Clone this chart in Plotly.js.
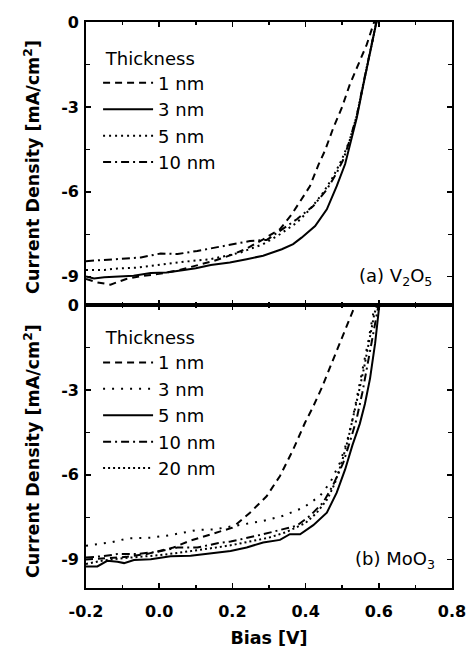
<!DOCTYPE html>
<html><head><meta charset="utf-8">
<script src="https://cdn.plot.ly/plotly-3.0.1.min.js"></script>
<style>html,body{margin:0;padding:0;background:#fff}</style>
</head><body><div id="chart" style="width:468px;height:648px"></div>
<script>
// ---- Panel (a) V2O5 ----
const a1nmV = [-0.2, -0.17, -0.133, -0.09, -0.05, 0.0, 0.05, 0.1, 0.15, 0.2, 0.24, 0.284, 0.33, 0.362, 0.389, 0.412, 0.435, 0.453, 0.476, 0.499, 0.521, 0.544, 0.567, 0.585, 0.595];
const a1nmJ = [-9.08, -9.2, -9.28, -9.08, -8.98, -8.9, -8.78, -8.62, -8.44, -8.22, -8.0, -7.68, -7.32, -6.8, -6.27, -5.8, -5.05, -4.54, -3.73, -3.03, -2.2, -1.5, -0.8, -0.09, 0.3];
const a3nmV = [-0.2, -0.178, -0.15, -0.114, -0.07, -0.023, 0.02, 0.068, 0.1, 0.141, 0.193, 0.239, 0.284, 0.335, 0.366, 0.389, 0.426, 0.458, 0.485, 0.508, 0.521, 0.54, 0.558, 0.576, 0.592, 0.6];
const a3nmJ = [-8.99, -9.06, -9.02, -8.99, -8.97, -8.87, -8.85, -8.76, -8.7, -8.59, -8.5, -8.38, -8.26, -8.03, -7.85, -7.62, -7.21, -6.62, -5.8, -5.02, -4.32, -3.38, -2.2, -1.03, -0.09, 0.4];
const a5nmV = [-0.2, -0.15, -0.114, -0.06, -0.023, 0.02, 0.068, 0.141, 0.195, 0.221, 0.284, 0.33, 0.376, 0.412, 0.448, 0.476, 0.499, 0.52, 0.54, 0.558, 0.576, 0.592, 0.6];
const a5nmJ = [-8.76, -8.76, -8.71, -8.68, -8.62, -8.55, -8.47, -8.38, -8.24, -8.15, -7.85, -7.5, -7.09, -6.62, -6.03, -5.45, -4.86, -4.2, -3.3, -2.15, -1.0, -0.05, 0.4];
const a10nmV = [-0.2, -0.187, -0.15, -0.114, -0.05, 0.004, 0.05, 0.104, 0.159, 0.195, 0.248, 0.294, 0.33, 0.376, 0.421, 0.458, 0.485, 0.503, 0.52, 0.54, 0.558, 0.576, 0.592, 0.6];
const a10nmJ = [-8.45, -8.44, -8.4, -8.36, -8.32, -8.18, -8.2, -8.09, -7.95, -7.88, -7.74, -7.7, -7.38, -6.97, -6.5, -5.92, -5.33, -4.86, -4.2, -3.3, -2.15, -1.0, -0.05, 0.4];

// ---- Panel (b) MoO3 ----
const b1nmV = [-0.2, -0.16, -0.09, -0.034, 0.039, 0.084, 0.157, 0.2, 0.248, 0.294, 0.33, 0.366, 0.398, 0.421, 0.444, 0.471, 0.503, 0.53, 0.545];
const b1nmJ = [-8.99, -8.96, -8.9, -8.8, -8.57, -8.33, -8.04, -7.87, -7.34, -6.75, -6.04, -5.11, -4.17, -3.58, -2.93, -2.05, -1.0, -0.18, 0.3];
const b3nmV = [-0.2, -0.133, -0.087, -0.023, 0.031, 0.104, 0.15, 0.195, 0.221, 0.284, 0.339, 0.394, 0.439, 0.467, 0.494, 0.512, 0.526, 0.539, 0.558, 0.572, 0.585, 0.59, 0.595];
const b3nmJ = [-8.51, -8.39, -8.25, -8.22, -8.13, -7.95, -7.93, -7.83, -7.78, -7.63, -7.45, -7.16, -6.75, -6.28, -5.57, -4.87, -4.17, -3.35, -2.17, -1.23, -0.29, 0.0, 0.3];
const b5nmV = [-0.2, -0.169, -0.142, -0.114, -0.096, -0.069, -0.023, 0.031, 0.086, 0.141, 0.195, 0.239, 0.284, 0.33, 0.357, 0.385, 0.421, 0.458, 0.485, 0.508, 0.528, 0.548, 0.562, 0.576, 0.59, 0.601, 0.606];
const b5nmJ = [-9.24, -9.24, -9.04, -9.07, -9.12, -9.01, -8.98, -8.88, -8.86, -8.77, -8.69, -8.57, -8.39, -8.3, -8.1, -8.1, -7.78, -7.34, -6.63, -5.81, -4.95, -4.2, -3.5, -2.6, -1.35, -0.06, 0.5];
const b10nmV = [-0.2, -0.155, -0.114, -0.06, -0.005, 0.05, 0.104, 0.159, 0.195, 0.248, 0.284, 0.339, 0.376, 0.412, 0.448, 0.476, 0.503, 0.523, 0.539, 0.555, 0.572, 0.588, 0.599, 0.605];
const b10nmJ = [-8.92, -8.88, -8.8, -8.8, -8.72, -8.57, -8.57, -8.42, -8.36, -8.22, -8.1, -7.92, -7.8, -7.45, -6.98, -6.34, -5.57, -4.75, -4.05, -3.1, -1.9, -0.7, 0.0, 0.4];
const b20nmV = [-0.2, -0.15, -0.1, -0.05, 0.0, 0.05, 0.1, 0.15, 0.2, 0.25, 0.3, 0.348, 0.4, 0.43, 0.46, 0.48, 0.5, 0.515, 0.53, 0.545, 0.56, 0.575, 0.588, 0.596, 0.602];
const b20nmJ = [-9.15, -9.02, -8.95, -8.9, -8.84, -8.76, -8.68, -8.58, -8.48, -8.36, -8.22, -8.02, -7.7, -7.35, -6.85, -6.3, -5.5, -4.8, -4.0, -3.1, -2.2, -1.2, -0.3, 0.0, 0.4];

const xTickVals = [-0.2, 0.0, 0.2, 0.4, 0.6, 0.8];
const xTickText = ['-0.2', '0.0', '0.2', '0.4', '0.6', '0.8'];
const yTickVals = [0, -3, -6, -9];
const yTickText = ['0', '-3', '-6', '-9'];
const legendTitle = '\u00a0Thickness';
const yTitle = 'Current Density [mA/cm<sup>2</sup>]';

const DASH = '7px,5px', DOT = '2px,4px', DOTS = '2px,7px', DOTD = '2px,3px', DASHDOT = '8px,4px,2px,4px';
function tr(x, y, name, dash, xa, ya, leg) {
  return {x: x, y: y, name: name, type: 'scatter', mode: 'lines', xaxis: xa, yaxis: ya, legend: leg,
          line: {color: '#000', width: 2, dash: dash}, hoverinfo: 'skip'};
}
const data = [
  tr(a1nmV, a1nmJ, '1 nm', DASH, 'x', 'y', 'legend'),
  tr(a3nmV, a3nmJ, '3 nm', 'solid', 'x', 'y', 'legend'),
  tr(a5nmV, a5nmJ, '5 nm', DOT, 'x', 'y', 'legend'),
  tr(a10nmV, a10nmJ, '10 nm', DASHDOT, 'x', 'y', 'legend'),
  tr(b1nmV, b1nmJ, '1 nm', DASH, 'x2', 'y2', 'legend2'),
  tr(b3nmV, b3nmJ, '3 nm', DOTS, 'x2', 'y2', 'legend2'),
  tr(b5nmV, b5nmJ, '5 nm', 'solid', 'x2', 'y2', 'legend2'),
  tr(b10nmV, b10nmJ, '10 nm', DASHDOT, 'x2', 'y2', 'legend2'),
  tr(b20nmV, b20nmJ, '20 nm', DOTD, 'x2', 'y2', 'legend2')
];

const tickFont = {family: 'DejaVu Sans', size: 16, weight: 'bold', color: '#000'};
const titleFont = {family: 'DejaVu Sans', size: 17.5, weight: 'bold', color: '#000'};
function xax(anchor, labels) {
  return {anchor: anchor, range: [-0.2, 0.8], tickmode: 'array', tickvals: xTickVals, ticktext: xTickText,
    showticklabels: labels, ticks: 'inside', ticklen: 5, tickwidth: 1.5, tickcolor: '#000',
    minor: {tickmode: 'linear', tick0: 0, dtick: 0.1, ticks: 'inside', ticklen: 3, tickwidth: 1.5, tickcolor: '#000'},
    showline: true, linecolor: '#000', linewidth: 1.8, mirror: 'ticks', showgrid: false, zeroline: false,
    tickfont: tickFont, ticklabelstandoff: 8, fixedrange: true};
}
function yax(anchor, dom) {
  return {anchor: anchor, domain: dom, range: [-10, 0], tickmode: 'array', tickvals: yTickVals, ticktext: yTickText,
    ticks: 'inside', ticklen: 5, tickwidth: 1.5, tickcolor: '#000',
    minor: {tickmode: 'linear', tick0: 0, dtick: 1.5, ticks: 'inside', ticklen: 4, tickwidth: 1.5, tickcolor: '#000'},
    showline: true, linecolor: '#000', linewidth: 1.8, mirror: 'ticks', showgrid: false, zeroline: false,
    tickfont: tickFont, ticklabelstandoff: 2, fixedrange: true};
}
const xa1 = xax('y', false);
const xa2 = xax('y2', true);
xa2.title = {text: 'Bias [V]', font: titleFont, standoff: 12};
function leg(ytop) {
  return {x: 0.033, y: ytop, xref: 'paper', yref: 'paper', xanchor: 'left', yanchor: 'top',
    bgcolor: 'rgba(0,0,0,0)', borderwidth: 0, itemwidth: 50, tracegroupgap: 0, traceorder: 'normal',
    font: {family: 'DejaVu Sans', size: 18, color: '#000'},
    title: {text: legendTitle, font: {family: 'DejaVu Sans', size: 18, color: '#000'}}};
}
const layout = {
  width: 468, height: 648,
  margin: {l: 86, r: 16, t: 22, b: 60, autoexpand: false},
  paper_bgcolor: '#fff', plot_bgcolor: '#fff',
  showlegend: true,
  font: {family: 'DejaVu Sans', color: '#000'},
  xaxis: xa1, yaxis: yax('x', [0.5, 1]),
  xaxis2: xa2, yaxis2: yax('x2', [0, 0.5]),
  legend: leg(0.966), legend2: leg(0.472),
  annotations: [
    {xref: 'paper', yref: 'paper', x: -0.1475, y: 0.744, xanchor: 'center', yanchor: 'middle', textangle: -90,
     showarrow: false, text: yTitle, font: titleFont},
    {xref: 'paper', yref: 'paper', x: -0.1475, y: 0.242, xanchor: 'center', yanchor: 'middle', textangle: -90,
     showarrow: false, text: yTitle, font: titleFont},
    {xref: 'paper', yref: 'y', x: 0.95, y: -9, xanchor: 'right', yanchor: 'middle', showarrow: false,
     text: '(a) V<sub>2</sub>O<sub>5</sub>', font: {family: 'DejaVu Sans', size: 18, color: '#000'}},
    {xref: 'paper', yref: 'y2', x: 0.96, y: -9, xanchor: 'right', yanchor: 'middle', showarrow: false,
     text: '(b) MoO<sub>3</sub>', font: {family: 'DejaVu Sans', size: 18, color: '#000'}}
  ]
};
Plotly.newPlot('chart', data, layout, {displayModeBar: false, staticPlot: true});
</script></body></html>
